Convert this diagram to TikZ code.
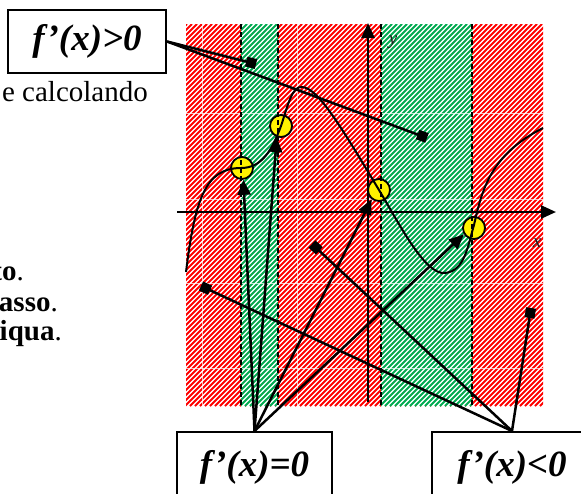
\documentclass[tikz,border=0pt]{standalone}
\usepackage{fontspec}
\setmainfont{Liberation Serif}
\usetikzlibrary{arrows.meta}
\definecolor{hred}{RGB}{255,0,0}
\definecolor{hgreen}{RGB}{0,170,80}
\definecolor{lblgray}{RGB}{30,30,30}
\tikzset{
  labelbox/.style={draw=black,line width=2pt,fill=white,inner sep=0pt,
    font=\fontsize{37}{40}\selectfont\bfseries\itshape},
  dot/.style={circle,draw=black,line width=1.8pt,fill=yellow,minimum size=22pt,inner sep=0pt},
  sqline/.style={line width=2.5pt,-{Square[length=10pt,width=10pt]}},
  triline/.style={line width=2.5pt,-{Triangle[length=15pt,width=13pt]}},
  axis/.style={line width=2.5pt,-{Triangle[length=15pt,width=13pt]}},
  divider/.style={line width=1.5pt,dash pattern=on 5pt off 3pt},
  seam/.style={white,line width=0.9pt,opacity=0.7},
  sidetext/.style={inner sep=0pt,anchor=base east,font=\fontsize{29}{32}\selectfont},
  axislabel/.style={font=\fontsize{19}{20}\selectfont\itshape,text=lblgray,inner sep=1pt}
}
\begin{document}
\begin{tikzpicture}[x=1pt,y=-1pt]
\clip (0,0) rectangle (581,493);
% hatched background
\fill[white] (186,24) rectangle (543,406);
\begin{scope}
  \clip (186,24) rectangle (543,406);
  \foreach \i in {-200,-195,...,545} \draw[hred,line width=2.0pt] (\i,406) -- ++(382,-382);
\end{scope}
\foreach \a/\b in {241/278,381/472}{
  \begin{scope}
    \clip (\a,24) rectangle (\b,406);
    \fill[white] (\a,24) rectangle (\b,406);
    \foreach \i in {-200,-195,...,545} \draw[hgreen,line width=1.8pt] (\i,406) -- ++(382,-382);
  \end{scope}
}
\foreach \yy in {113,199,283,368} \draw[seam] (186,\yy) -- (543,\yy);
\foreach \xx in {202,297} \draw[seam] (\xx,24) -- (\xx,406);
% stationary points
\node[dot] (c1) at (242,168) {};
\node[dot] (c2) at (281,126) {};
\node[dot] (c3) at (379,190) {};
\node[dot] (c4) at (474,228) {};
% dividers
\foreach \xx in {241,278,381,472} \draw[divider] (\xx,24) -- (\xx,406);
% curve
\draw[line width=2pt]
  (186,272) .. controls (195,200) and (205,168) .. (241,168)
  .. controls (262,168) and (272,150) .. (281,126)
  .. controls (288,105) and (292,86) .. (302,87)
  .. controls (318,88) and (340,125) .. (379,190)
  .. controls (400,225) and (425,275) .. (445,273)
  .. controls (465,271) and (468,245) .. (474,225)
  .. controls (482,190) and (490,155) .. (543,128);
% axes
\coordinate (xs) at (177,212);
\coordinate (xe) at (556,212);
\coordinate (ys) at (368,402);
\coordinate (ye) at (368,23);
\draw[axis] (xs) -- (xe);
\draw[axis] (ys) -- (ye);
\node[axislabel] (ylab) at (393,42) {y};
\node[axislabel] (xlab) at (537,243) {x};
% side text
\node[sidetext] (t0) at (148,101) {e calcolando};
\node[sidetext] (t1) at (24,280) {\textbf{to}.};
\node[sidetext] (t2) at (58,311) {\textbf{asso}.};
\node[sidetext] (t3) at (62,340) {\textbf{iqua}.};
% boxes
\node[labelbox,minimum width=158pt,minimum height=63pt] (gt) at (87,41.5) {f’(x)>0};
\node[labelbox,minimum width=155pt,minimum height=70pt] (eq) at (254.5,467) {f’(x)=0};
\node[labelbox,minimum width=160pt,minimum height=70pt] (lt) at (512,467) {f’(x)<0};
% markers
\coordinate (d1) at (256,64);
\coordinate (d2) at (427,138);
\coordinate (d3) at (531,308);
\coordinate (d4) at (312,244);
\coordinate (d5) at (201,286);
\draw[sqline] (gt.east) -- (d1);
\draw[sqline] (gt.east) -- (d2);
\draw[sqline] (lt.north) -- (d3);
\draw[sqline] (lt.north) -- (d4);
\draw[sqline] (lt.north) -- (d5);
\draw[triline] (eq.north) -- (c1.277);
\draw[triline] (eq.north) -- (c2.249);
\draw[triline] (eq.north) -- (c3.232);
\draw[triline] (eq.north) -- (c4.212);
\end{tikzpicture}
\end{document}
